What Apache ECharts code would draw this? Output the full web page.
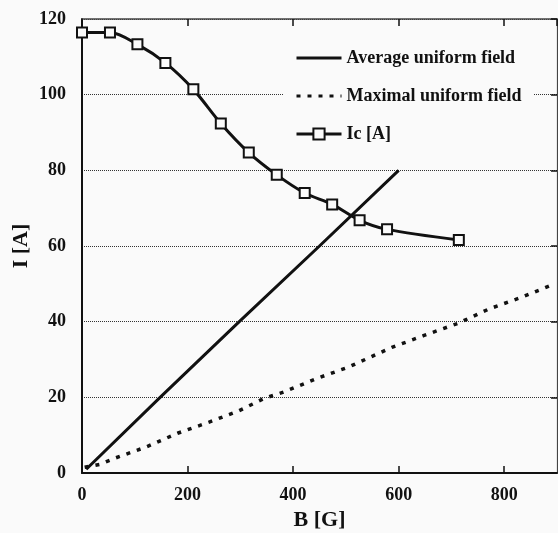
<!DOCTYPE html>
<html>
<head>
<meta charset="utf-8">
<script src="https://cdn.jsdelivr.net/npm/echarts@6/dist/echarts.min.js"></script>
<style>
html,body{margin:0;padding:0;background:#fafafa;}
#c{width:558px;height:533px;}
</style>
</head>
<body>
<div id="c"></div>
<script>
// Data
const icB = [0, 53, 105, 158, 211, 263, 316, 369, 422, 474, 526, 578, 714];
const icI = [116.4, 116.4, 113.3, 108.4, 101.4, 92.4, 84.7, 78.8, 74.0, 71.0, 66.8, 64.4, 61.6];

const avgB = [8, 148, 298, 450, 600];
const avgI = [1.0, 20, 40, 60, 80];

const maxB = [5, 34, 62, 122, 181, 242, 298, 345, 382, 445, 505, 587, 647, 713, 772, 832, 897];
const maxI = [1.5, 2.3, 3.9, 6.9, 10.5, 13.5, 16.5, 19.7, 21.4, 25.0, 28.0, 33.2, 36.3, 39.6, 43.4, 46.4, 50.1];

const xTicks = { min: 0, max: 900, interval: 200 };
const yTicks = { min: 0, max: 120, interval: 20 };

const seriesNames = ['Average uniform field', 'Maximal uniform field', 'Ic [A]'];

const zip = (a, b) => a.map((v, i) => [v, b[i]]);
const FONT = '"Liberation Serif", "Times New Roman", serif';
const INK = '#111';

const chart = echarts.init(document.getElementById('c'));
chart.setOption({
  backgroundColor: '#fafafa',
  animation: false,
  textStyle: { fontFamily: FONT, fontWeight: 'bold', color: INK },
  grid: { left: 82, right: 1, top: 19, bottom: 60, containLabel: false, outerBoundsMode: 'none' },
  legend: {
    orient: 'vertical',
    left: 283,
    top: 41,
    padding: [8, 12, 8, 12],
    itemGap: 20,
    itemWidth: 45,
    itemHeight: 14,
    backgroundColor: '#fafafa',
    lineStyle: { width: 3 },
    data: [
      { name: seriesNames[0], itemStyle: { opacity: 0 } },
      { name: seriesNames[1], itemStyle: { opacity: 0 } },
      { name: seriesNames[2] }
    ],
    textStyle: { fontFamily: FONT, fontWeight: 'bold', fontSize: 18, color: INK }
  },
  xAxis: [
    {
      type: 'value', position: 'bottom',
      min: xTicks.min, max: xTicks.max, interval: xTicks.interval,
      name: 'B [G]', nameLocation: 'middle', nameGap: 36,
      nameTextStyle: { fontFamily: FONT, fontWeight: 'bold', fontSize: 22, color: INK },
      axisLine: { show: true, onZero: false, lineStyle: { color: INK, width: 2 } },
      axisTick: { show: true, inside: true, length: 7, lineStyle: { color: INK, width: 1.5 } },
      axisLabel: { margin: 13, fontFamily: FONT, fontWeight: 'bold', fontSize: 18, color: INK, showMaxLabel: false },
      splitLine: { show: false }
    },
    {
      type: 'value', position: 'top',
      min: xTicks.min, max: xTicks.max, interval: xTicks.interval,
      axisLine: { show: true, onZero: false, lineStyle: { color: '#444', width: 1.5 } },
      axisTick: { show: true, inside: true, length: 7, lineStyle: { color: INK, width: 1.5 } },
      axisLabel: { show: false },
      splitLine: { show: false }
    }
  ],
  yAxis: [
    {
      type: 'value', position: 'left',
      min: yTicks.min, max: yTicks.max, interval: yTicks.interval,
      name: 'I [A]', nameLocation: 'middle', nameGap: 50, nameMoveOverlap: false,
      nameTextStyle: { fontFamily: FONT, fontWeight: 'bold', fontSize: 22, color: INK },
      axisLine: { show: true, onZero: false, lineStyle: { color: INK, width: 2 } },
      axisTick: { show: false },
      axisLabel: { margin: 16, fontFamily: FONT, fontWeight: 'bold', fontSize: 18, color: INK },
      splitLine: { show: true, lineStyle: { color: '#333', width: 1, type: [1, 1] } }
    },
    {
      type: 'value', position: 'right',
      min: yTicks.min, max: yTicks.max, interval: yTicks.interval,
      axisLine: { show: true, onZero: false, lineStyle: { color: '#444', width: 1.2 } },
      axisTick: { show: true, inside: true, length: 6, lineStyle: { color: INK, width: 1.5 } },
      axisLabel: { show: false },
      splitLine: { show: false }
    }
  ],
  series: [
    {
      name: seriesNames[0], type: 'line', xAxisIndex: 0, yAxisIndex: 0,
      data: zip(avgB, avgI), showSymbol: false,
      lineStyle: { color: INK, width: 3 }, itemStyle: { color: INK }, z: 3
    },
    {
      name: seriesNames[1], type: 'line', xAxisIndex: 0, yAxisIndex: 0,
      data: zip(maxB, maxI), showSymbol: false,
      lineStyle: { color: INK, width: 3.5, type: [4, 7] }, itemStyle: { color: INK }, z: 3
    },
    {
      name: seriesNames[2], type: 'line', xAxisIndex: 0, yAxisIndex: 0,
      data: zip(icB, icI), smooth: 0.3,
      symbol: 'rect', symbolSize: 10,
      lineStyle: { color: INK, width: 3 },
      itemStyle: { color: '#fafafa', borderColor: INK, borderWidth: 2 }, z: 4
    }
  ]
});
</script>
</body>
</html>
